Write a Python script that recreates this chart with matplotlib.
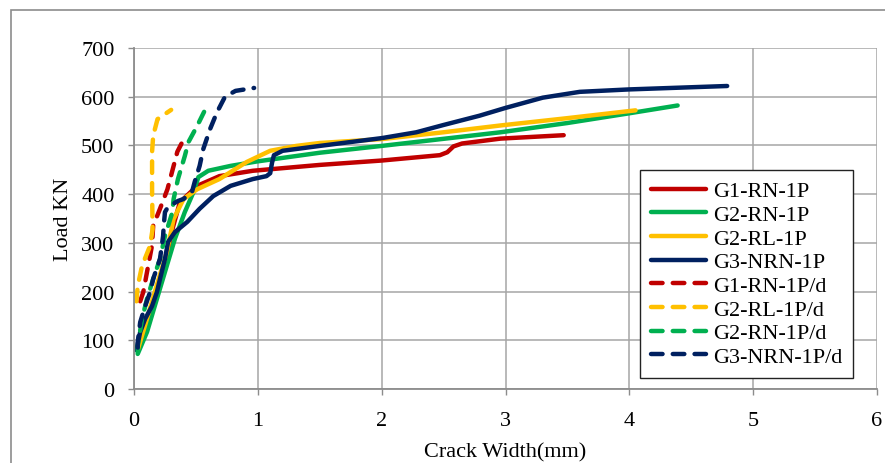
import matplotlib.pyplot as plt
from matplotlib.patches import Rectangle

plt.rcParams['font.family'] = ['Liberation Serif', 'DejaVu Serif']

# crack width (mm) / load (kN)
g1_rn_x = [0.04, 0.13, 0.21, 0.265, 0.31, 0.37, 0.51, 0.69, 0.96, 1.5, 2.0, 2.47, 2.53, 2.58, 2.65, 2.96, 3.47]
g1_rn_y = [90, 158, 226, 273, 328, 383, 417, 437, 448, 460, 469, 480, 486, 498, 504, 514, 521]

g2_rn_x = [0.03, 0.105, 0.185, 0.265, 0.33, 0.41, 0.48, 0.52, 0.6, 0.78, 0.99, 1.5, 2.0, 2.96, 3.5, 4.0, 4.39]
g2_rn_y = [72, 117, 185, 253, 308, 363, 404, 435, 448, 458, 467, 485, 499, 527, 546, 566, 582]

g2_rl_x = [0.03, 0.1, 0.18, 0.265, 0.32, 0.40, 0.51, 0.69, 0.91, 1.10, 1.31, 1.5, 2.0, 2.5, 2.96, 3.5, 4.05]
g2_rl_y = [80, 140, 210, 281, 349, 390, 410, 431, 466, 489, 499, 505, 513, 527, 541, 556, 572]

g3_nrn_x = [0.02, 0.05, 0.09, 0.145, 0.185, 0.21, 0.25, 0.275, 0.33, 0.43, 0.53, 0.64, 0.78, 0.96, 1.07,
            1.10, 1.115, 1.13, 1.2, 1.5, 2.0, 2.28, 2.5, 2.79, 3.0, 3.3, 3.6, 4.0, 4.79]
g3_nrn_y = [80, 117, 144, 170, 199, 226, 267, 302, 322, 343, 370, 396, 417, 431, 437,
            443, 465, 480, 489, 499, 515, 527, 542, 561, 577, 598, 610, 615, 622]

g1_rn_d_x = [0.05, 0.075, 0.105, 0.145, 0.155, 0.21, 0.27, 0.32, 0.35, 0.39, 0.40]
g1_rn_d_y = [180, 199, 240, 294, 335, 370, 410, 458, 487, 507, 523]

g2_rl_d_x = [0.02, 0.03, 0.065, 0.13, 0.15, 0.146, 0.146, 0.155, 0.19, 0.30]
g2_rl_d_y = [180, 211, 253, 294, 328, 410, 487, 520, 554, 573]

g2_rn_d_x = [0.03, 0.03, 0.065, 0.105, 0.155, 0.21, 0.25, 0.31, 0.32, 0.355, 0.41, 0.44, 0.51, 0.57]
g2_rn_d_y = [75, 88, 144, 185, 226, 267, 314, 363, 390, 431, 478, 507, 540, 571]

g3_nrn_d_x = [0.03, 0.03, 0.05, 0.09, 0.13, 0.155, 0.21, 0.235, 0.24, 0.25, 0.275, 0.355, 0.40,
              0.47, 0.49, 0.53, 0.56, 0.615, 0.67, 0.735, 0.82, 0.97]
g3_nrn_d_y = [85, 96, 137, 170, 199, 226, 267, 314, 335, 363, 374, 386, 390,
              406, 425, 458, 493, 534, 568, 600, 612, 618]

series = [
    ('G1-RN-1P', g1_rn_x, g1_rn_y, '#C00000', '-'),
    ('G2-RN-1P', g2_rn_x, g2_rn_y, '#00B050', '-'),
    ('G2-RL-1P', g2_rl_x, g2_rl_y, '#FFC000', '-'),
    ('G3-NRN-1P', g3_nrn_x, g3_nrn_y, '#002060', '-'),
    ('G1-RN-1P/d', g1_rn_d_x, g1_rn_d_y, '#C00000', '--'),
    ('G2-RL-1P/d', g2_rl_d_x, g2_rl_d_y, '#FFC000', '--'),
    ('G2-RN-1P/d', g2_rn_d_x, g2_rn_d_y, '#00B050', '--'),
    ('G3-NRN-1P/d', g3_nrn_d_x, g3_nrn_d_y, '#002060', '--'),
]

fig = plt.figure(figsize=(8.85, 4.64), dpi=100)
ax = fig.add_axes([134 / 885, 1 - 390 / 464, 743 / 885, 341 / 464])

# outer chart border
fig.patches.append(Rectangle((11 / 885, -0.1), 2, 1 - 11 / 464 + 0.1, transform=fig.transFigure,
                             fill=False, edgecolor='#8c8c8c', linewidth=1.2))

for name, xs, ys, col, ls in series:
    line, = ax.plot(xs, ys, color=col, linewidth=3.2, label=name,
                    solid_capstyle='round', dash_capstyle='round', solid_joinstyle='round')
    if ls == '--':
        line.set_dashes([2.6, 2.3])

ax.set_xlim(0, 6)
ax.set_ylim(0, 700)
ax.set_xticks(range(0, 7))
ax.set_yticks(range(0, 701, 100))
ax.grid(True, color='#a6a6a6', linewidth=1.1)
ax.set_axisbelow(True)
for s in ['top', 'right']:
    ax.spines[s].set_visible(False)
for s in ['left', 'bottom']:
    ax.spines[s].set_color('#8c8c8c')
    ax.spines[s].set_linewidth(1.3)
ax.tick_params(axis='both', direction='out', length=4, width=1, color='#8c8c8c',
               labelsize=16, pad=10)
ax.tick_params(axis='x', pad=12)

ax.set_xlabel('Crack Width(mm)', fontsize=16, labelpad=9)
ax.set_ylabel('Load KN', fontsize=16, labelpad=6)

leg = ax.legend(loc='lower right', bbox_to_anchor=(0.968, 0.032), fontsize=16,
                fancybox=False, edgecolor='#222222', framealpha=1,
                handlelength=2.5, handletextpad=0.3, labelspacing=0.14,
                borderpad=0.5, borderaxespad=0)
leg.get_frame().set_linewidth(1.0)

fig.savefig('out.png', dpi=100)
